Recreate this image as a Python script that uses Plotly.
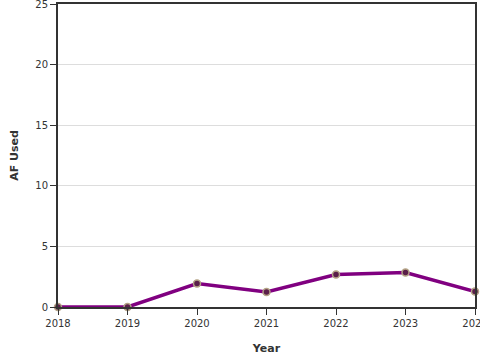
import plotly.graph_objects as go

years = [2018, 2019, 2020, 2021, 2022, 2023, 2024]
af_used = [0.0, 0.0, 1.94, 1.24, 2.68, 2.85, 1.28]
y_ticks = [0, 5, 10, 15, 20, 25]

fig = go.Figure()
fig.add_trace(go.Scatter(
    x=years, y=af_used, mode="lines+markers",
    line=dict(color="#800080", width=3.5),
    marker=dict(size=7, color="#5a1f4a", line=dict(color="#b3a285", width=1.5)),
    cliponaxis=False, showlegend=False,
))

fig.update_layout(
    width=480, height=360,
    margin=dict(l=58, r=5, t=4, b=53, autoexpand=False),
    paper_bgcolor="white", plot_bgcolor="white",
    font=dict(family="DejaVu Sans", size=10, color="#333333"),
)
fig.update_xaxes(
    range=[2018, 2024], tickvals=years, ticktext=[str(y) for y in years],
    showgrid=False, zeroline=False, automargin=False, ticklabeloverflow="allow",
    showline=True, linecolor="#333333", linewidth=2, mirror=True,
    ticks="outside", ticklen=6, tickcolor="#333333",
    title=dict(text="<b>Year</b>", font=dict(size=11, color="#333333"), standoff=16),
)
fig.update_yaxes(
    range=[0, 25], tickvals=y_ticks,
    showgrid=True, gridcolor="#dddddd", zeroline=False, automargin=False,
    ticklabeloverflow="allow",
    showline=True, linecolor="#333333", linewidth=2, mirror=True,
    ticks="outside", ticklen=6, tickcolor="#333333",
    title=dict(text="<b>AF Used</b>", font=dict(size=11, color="#333333"), standoff=14),
)

fig.write_html("out.html", config={"displayModeBar": False},
               post_script="document.body.style.margin='0';")
